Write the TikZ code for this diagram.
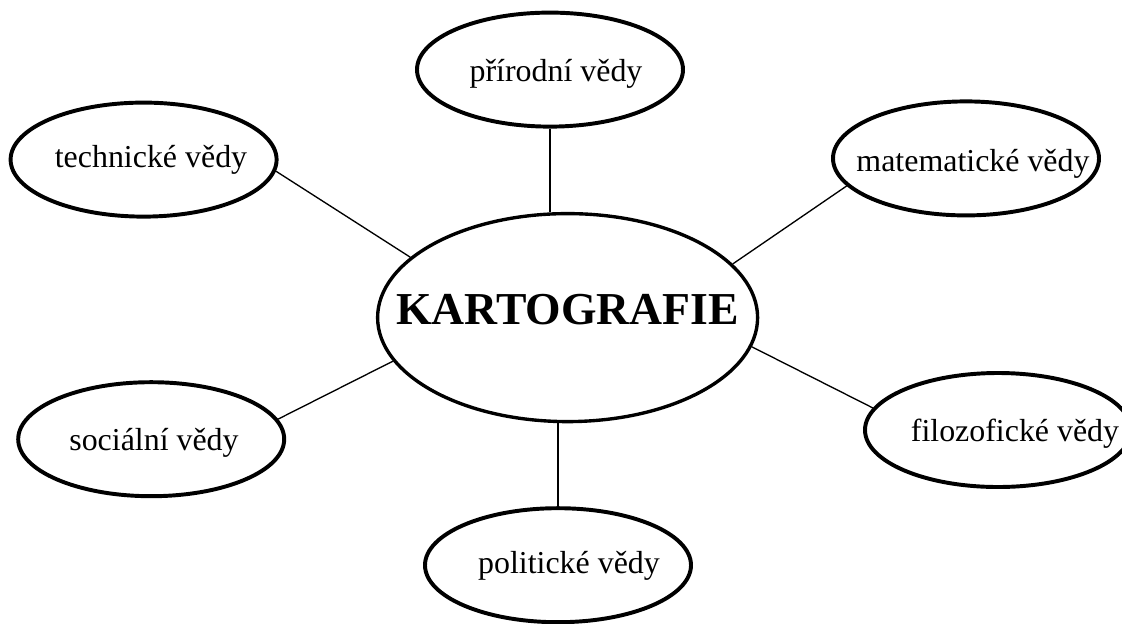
\documentclass[tikz,border=0pt]{standalone}
\usepackage{fontspec}
\setmainfont{Liberation Serif}
\usepackage{tikz}
\usetikzlibrary{positioning, shapes.geometric}
\tikzset{
    obor/.style={draw, ellipse, line width=2.8pt, minimum width=6.65cm, minimum height=2.85cm, inner sep=0pt},
    hlavni/.style={draw, ellipse, line width=2.4pt, minimum width=9.5cm, minimum height=5.2cm, inner sep=0pt},
    popis/.style={anchor=base, inner sep=0pt, font=\fontsize{22.7}{26}\selectfont},
    nadpis/.style={anchor=base, inner sep=0pt, font=\fontsize{32.5}{36}\selectfont\bfseries},
    spoj/.style={line width=0.95pt}
}

\begin{document}
\begin{tikzpicture}

\useasboundingbox (0,0) rectangle (28.05,-15.575);

% Ellipses
\node[hlavni] (kart) at (14.19,-7.94) {};
\node[obor] (prir) at (13.75,-1.74) {};
\node[obor] (tech) at (3.59,-3.99) {};
\node[obor] (mat) at (24.15,-3.96) {};
\node[obor] (soc) at (3.78,-10.98) {};
\node[obor] (filo) at (24.95,-10.75) {};
\node[obor] (pol) at (13.95,-14.13) {};

% Texts
\node[nadpis] (kart-t) at (14.19,-8.1) {KARTOGRAFIE};
\node[popis] (prir-t) at (13.9,-2.025) {přírodní vědy};
\node[popis] (tech-t) at (3.775,-4.175) {technické vědy};
\node[popis] (mat-t) at (24.325,-4.275) {matematické vědy};
\node[popis] (soc-t) at (3.85,-11.25) {sociální vědy};
\node[popis] (filo-t) at (25.375,-11.025) {filozofické vědy};
\node[popis] (pol-t) at (14.225,-14.325) {politické vědy};

% Lines
\draw[spoj] (prir.south) -- (prir.south |- kart.north);
\draw[spoj] (pol.north) -- (pol.north |- kart.south);
\draw[spoj] (tech.-5.4) -- (kart.159.5);
\draw[spoj] (mat.193.6) -- (kart.18.9);
\draw[spoj] (soc.9.8) -- (kart.194.3);
\draw[spoj] (filo.170.9) -- (kart.-9.4);

\end{tikzpicture}
\end{document}
